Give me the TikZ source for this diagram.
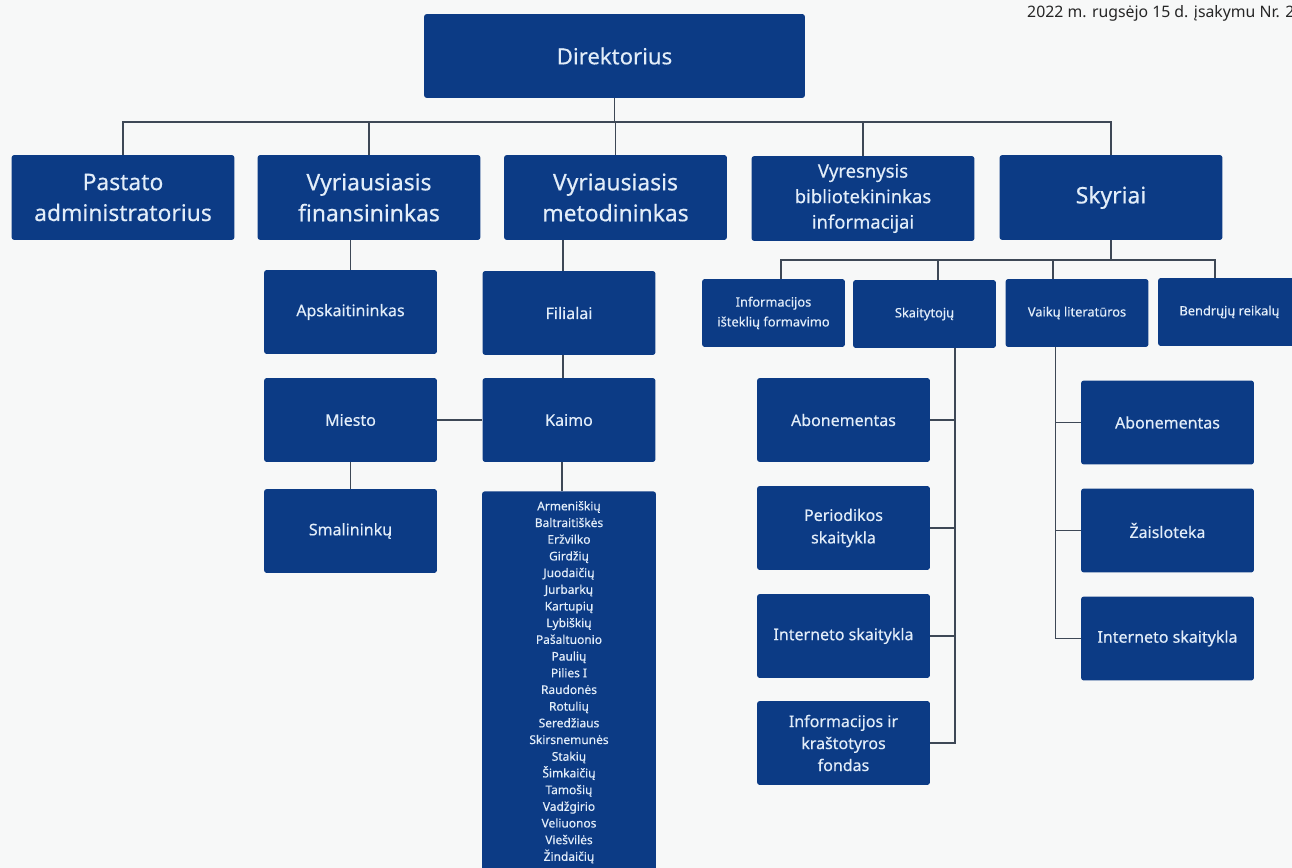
\documentclass[tikz,border=0pt]{standalone}
\usepackage{fontspec}
\setmainfont{Noto Sans}
\newfontfamily\boxfont{Noto Sans}[FakeBold=0.35]
\usepackage{tikz}
\usetikzlibrary{calc,positioning}

\definecolor{navy}{RGB}{12,59,133}
\definecolor{paleblue}{RGB}{226,237,249}
\definecolor{wire}{RGB}{62,72,86}
\definecolor{paper}{RGB}{247,248,248}

\tikzset{
  unit/.style={fill=navy, text=paleblue, rounded corners=1.6pt, align=center, inner sep=0pt},
  head/.style={unit, minimum width=7.62cm, minimum height=1.68cm, font=\boxfont\fontsize{12.6}{15}\selectfont},
  dept/.style={unit, minimum width=4.46cm, minimum height=1.7cm, font=\boxfont\fontsize{13}{17.6}\selectfont},
  post/.style={unit, minimum width=3.46cm, minimum height=1.68cm, font=\boxfont\fontsize{9.1}{12.8}\selectfont},
  sect/.style={unit, minimum width=2.86cm, minimum height=1.36cm, font=\boxfont\fontsize{7.3}{11.3}\selectfont},
  wires/.style={draw=wire, line width=0.9pt},
}

\begin{document}
\begin{tikzpicture}[x=0.02cm, y=-0.02cm]
\useasboundingbox (0,0) rectangle (1292,868);
\clip (0,0) rectangle (1292,868);
\fill[paper] (0,0) rectangle (1292,868);

\node[anchor=base west, text=black!85, font=\fontsize{9}{10}\selectfont] (order) at (1021,18) {2022 m. rugsėjo 15 d. įsakymu Nr. 2};

% top
\node[head] (dir) at (614.5,56) {Direktorius};

\node[dept] (pastato) at (123,197.5) {Pastato\\administratorius};
\node[dept] (fin) at (369,197.5) {Vyriausiasis\\finansininkas};
\node[dept] (met) at (615.5,197.5) {Vyriausiasis\\metodininkas};
\node[dept, font=\boxfont\fontsize{10.5}{14.5}\selectfont] (vyr) at (863,198.5) {Vyresnysis\\bibliotekininkas\\informacijai};
\node[dept] (sky) at (1111,197.5) {Skyriai};

\coordinate (bus) at (0,122);
\draw[wires] (dir.south) -- (dir.south |- bus);
\draw[wires] (pastato.north) |- (sky.north |- bus) -- (sky.north);
\foreach \n in {fin,met,vyr}
  \draw[wires] (\n.north) -- (\n.north |- bus);

% finansininkas
\node[post] (apsk) at (350.5,312) {Apskaitininkas};
\node[post] (miesto) at (350.5,420) {Miesto};
\node[post] (smal) at (350.5,531) {Smalininkų};
\draw[wires] (apsk.north) -- (apsk.north |- fin.south);
\draw[wires] (miesto.south) -- (smal.north);

% metodininkas
\node[post] (fil) at (569,313) {Filialai};
\node[post] (kaimo) at (569,420) {Kaimo};
\node[unit, anchor=north, minimum width=3.48cm, minimum height=7.64cm,
  font=\boxfont\fontsize{6.8}{9.5}\selectfont] (kaimai) at (569,491)
  {Armeniškių\\Baltraitiškės\\Eržvilko\\Girdžių\\Juodaičių\\Jurbarkų\\Kartupių\\Lybiškių\\Pašaltuonio\\Paulių\\Pilies I\\Raudonės\\Rotulių\\Seredžiaus\\Skirsnemunės\\Stakių\\Šimkaičių\\Tamošių\\Vadžgirio\\Veliuonos\\Viešvilės\\Žindaičių};
\draw[wires] ([xshift=-1.2mm]fil.north) -- ([xshift=-1.2mm]fil.north |- met.south);
\draw[wires] ([xshift=-1.2mm]fil.south) -- ([xshift=-1.2mm]kaimo.north);
\draw[wires] ([xshift=-1.4mm]kaimo.south) -- ([xshift=-1.4mm]kaimai.north);
\draw[wires] (miesto.east) -- (kaimo.west);

% skyriai
\node[sect] (info) at (773.5,313) {Informacijos\\išteklių formavimo};
\node[sect] (skait) at (924.5,314) {Skaitytojų};
\node[sect] (vaik) at (1077,313) {Vaikų literatūros};
\node[sect] (bendr) at (1229.5,312) {Bendrųjų reikalų};

\coordinate (rbus) at (0,260);
\draw[wires] (sky.south) -- (sky.south |- rbus);
\draw[wires] ([xshift=1.5mm]info.north) |- ([xshift=-2.9mm]bendr.north |- rbus) -- ([xshift=-2.9mm]bendr.north);
\draw[wires] ([xshift=2.7mm]skait.north) -- ([xshift=2.7mm]skait.north |- rbus);
\draw[wires] ([xshift=-4.8mm]vaik.north) -- ([xshift=-4.8mm]vaik.north |- rbus);

% skaitytoju
\node[post] (abon1) at (843.5,420) {Abonementas};
\node[post] (period) at (843.5,528) {Periodikos\\skaitykla};
\node[post] (inter1) at (843.5,636) {Interneto skaitykla};
\node[post, font=\boxfont\fontsize{9.1}{12.5}\selectfont] (fond) at (843.5,743) {Informacijos ir\\kraštotyros\\fondas};
\coordinate (sk) at ([xshift=6.1mm]skait.south);
\draw[wires] (sk) |- (fond.east);
\foreach \n in {abon1,period,inter1}
  \draw[wires] (\n.east) -- (\n.east -| sk);

% vaiku literaturos
\node[post] (abon2) at (1167.5,422.5) {Abonementas};
\node[post] (zais) at (1167.5,530.5) {Žaisloteka};
\node[post] (inter2) at (1167.5,638.5) {Interneto skaitykla};
\coordinate (vk) at ([xshift=-4.3mm]vaik.south);
\draw[wires] (vk) |- (inter2.west);
\foreach \n in {abon2,zais}
  \draw[wires] (\n.west) -- (\n.west -| vk);
\end{tikzpicture}
\end{document}
